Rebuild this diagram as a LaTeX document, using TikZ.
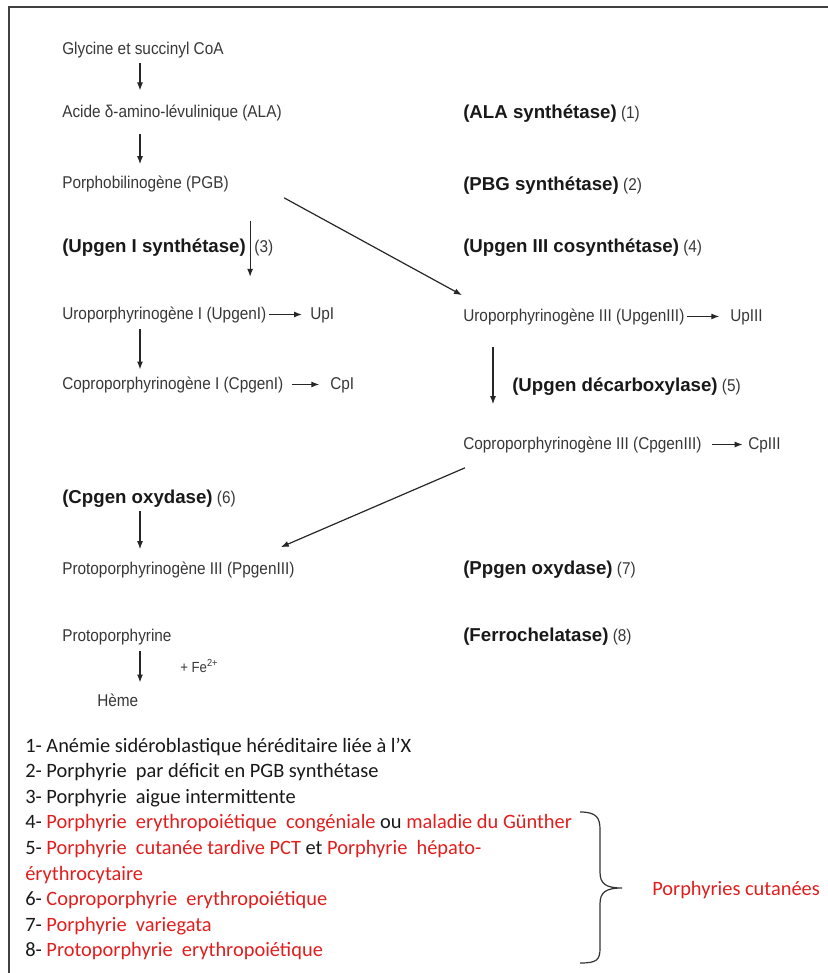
\documentclass[tikz,border=0pt]{standalone}
\usepackage{fontspec}
\setmainfont{Liberation Sans}
\newfontfamily\molfont[FakeStretch=0.9]{Liberation Sans}
\newfontfamily\listfont{Carlito}
\usepackage{tikz}
\usetikzlibrary{calc,arrows.meta,positioning}
\definecolor{txtgray}{RGB}{55,55,55}
\definecolor{porred}{RGB}{225,30,30}
\newcommand{\enznum}[1]{{\mdseries\molfont\fontsize{12.8}{14}\selectfont\ \textcolor{txtgray}{(#1)}}}
\newcommand{\rouge}[1]{\textcolor{porred}{#1}}

\tikzset{
  mol/.style={anchor=base west,inner sep=0pt,text=txtgray,font=\molfont\fontsize{12.8}{14}\selectfont},
  enz/.style={anchor=base west,inner sep=0pt,text=black!90,font=\fontsize{14}{16}\selectfont\bfseries},
  item/.style={anchor=base west,inner sep=0pt,text=black!90,font=\listfont\fontsize{15.3}{18}\selectfont},
  arr/.style={-{Latex[length=6pt,width=4.5pt]},line width=0.9pt,draw=black!85},
}

\begin{document}
\begin{tikzpicture}[x=0.75pt,y=-0.75pt]
          \useasboundingbox (0,0) rectangle (827,973);
          \draw[line width=1.2pt,black!75] (9,7) rectangle (850,990);

          \coordinate (colA) at (140,0);
          \coordinate (colC) at (493,0);

          % voie de gauche
          \node[mol] (gly) at (62,55) {Glycine et succinyl CoA};
          \node[mol] (ala) at (62,118) {Acide δ-amino-lévulinique (ALA)};
          \node[mol] (pbg) at (62,189) {Porphobilinogène (PGB)};
          \node[enz] (upg1) at (62,253) {(Upgen I synthétase)};
          \node[mol] (n3) at ([xshift=6pt]upg1.base east) {(3)};
          \coordinate (m3) at ($(upg1.east)!.5!(n3.west)$);
          \node[mol] (uro1) at (62,319) {Uroporphyrinogène I (UpgenI)};
          \node[mol] (up1) at (310,319) {UpI};
          \node[mol] (copro1) at (62,389) {Coproporphyrinogène I (CpgenI)};
          \node[mol] (cp1) at (330,389) {CpI};
          \node[enz] (cpgox) at (62,503) {(Cpgen oxydase)\enznum{6}};
          \node[mol] (proto3) at (62,574) {Protoporphyrinogène III (PpgenIII)};
          \node[mol] (protop) at (62,641) {Protoporphyrine};
          \node[mol,font=\molfont\fontsize{11}{12}\selectfont] (fe) at (180,672) {+ Fe\textsuperscript{2+}};
          \node[mol] (heme) at (97,706) {Hème};

          % voie de droite
          \node[enz] (alas) at (463,119) {(ALA synthétase)\enznum{1}};
          \node[enz] (pbgs) at (463,191) {(PBG synthétase)\enznum{2}};
          \node[enz] (upg3) at (463,253) {(Upgen III cosynthétase)\enznum{4}};
          \node[mol] (uro3) at (463,321) {Uroporphyrinogène III (UpgenIII)};
          \node[mol] (up3) at (730,321) {UpIII};
          \node[enz] (updec) at (512,391) {(Upgen décarboxylase)\enznum{5}};
          \node[mol] (copro3) at (463,449) {Coproporphyrinogène III (CpgenIII)};
          \node[mol] (cp3) at (748,449) {CpIII};
          \node[enz] (ppgox) at (463,574) {(Ppgen oxydase)\enznum{7}};
          \node[enz] (ferro) at (463,641) {(Ferrochelatase)\enznum{8}};

          \draw[arr,shorten <=3pt,shorten >=11pt] (gly.south -| colA) -- (ala.north -| colA);
          \draw[arr,shorten <=9pt,shorten >=9pt] (ala.south -| colA) -- (pbg.north -| colA);
          \draw[arr,shorten <=21pt,shorten >=22pt] (m3 |- pbg.south) -- (m3 |- uro1.north);
          \draw[arr,shorten <=5pt,shorten >=5pt] (uro1.south -| colA) -- (copro1.north -| colA);
          \draw[arr,shorten <=3pt,shorten >=9pt] (cpgox.south -| colA) -- (proto3.north -| colA);
          \draw[arr,shorten <=5pt,shorten >=8pt] (protop.south -| colA) -- (heme.north -| colA);
          \draw[arr,shorten <=17pt,shorten >=24pt] (uro3.south -| colC) -- (copro3.north -| colC);

          \draw[arr] ($(pbg.south east)+(55,5)$) -- ($(uro3.north west)+(-1,-13)$);
          \draw[arr] ($(copro3.south west)+(2,15)$) -- ($(proto3.north east)+(-14,-14)$);

          \draw[arr,shorten <=2pt,shorten >=6pt] (uro1.east) -- (uro1.east -| up1.west);
          \draw[arr,shorten <=6pt,shorten >=8pt] (copro1.east) -- (copro1.east -| cp1.west);
          \draw[arr,shorten <=2pt,shorten >=8pt] (uro3.east) -- (uro3.east -| up3.west);
          \draw[arr,shorten <=8pt,shorten >=4pt] (copro3.east) -- (copro3.east -| cp3.west);

          % maladies
          \node[item] (l1) at (25,752) {1- Anémie sidéroblastique héréditaire liée à l’X};
          \node[item] (l2) at (25,777.6) {2- Porphyrie~ par déficit en PGB synthétase};
          \node[item] (l3) at (25,803.2) {3- Porphyrie~ aigue intermittente};
          \node[item] (l4) at (25,828.8) {4- \rouge{Porphyrie~ erythropoiétique~ congéniale} ou~\rouge{maladie du Günther}};
          \node[item] (l5) at (25,854.4) {5- \rouge{Porphyrie~ cutanée tardive PCT} et \rouge{Porphyrie~ hépato-}};
          \node[item,text=porred] (l5b) at (25,880) {érythrocytaire};
          \node[item] (l6) at (25,905.6) {6- \rouge{Coproporphyrie~ erythropoiétique}};
          \node[item] (l7) at (25,931.2) {7- \rouge{Porphyrie~ variegata}};
          \node[item] (l8) at (25,956.8) {8- \rouge{Protoporphyrie~ erythropoiétique}};

          \draw[line width=0.9pt,black!80] (580,812) .. controls (597,812) and (600,818) .. (600,830)
            -- (600,872) .. controls (600,884) and (606,888) .. (622,888)
            .. controls (606,888) and (600,892) .. (600,904)
            -- (600,948) .. controls (600,960) and (597,963) .. (580,963);
          \node[item,text=porred] (cut) at (652,895) {Porphyries cutanées};
\end{tikzpicture}
\end{document}
